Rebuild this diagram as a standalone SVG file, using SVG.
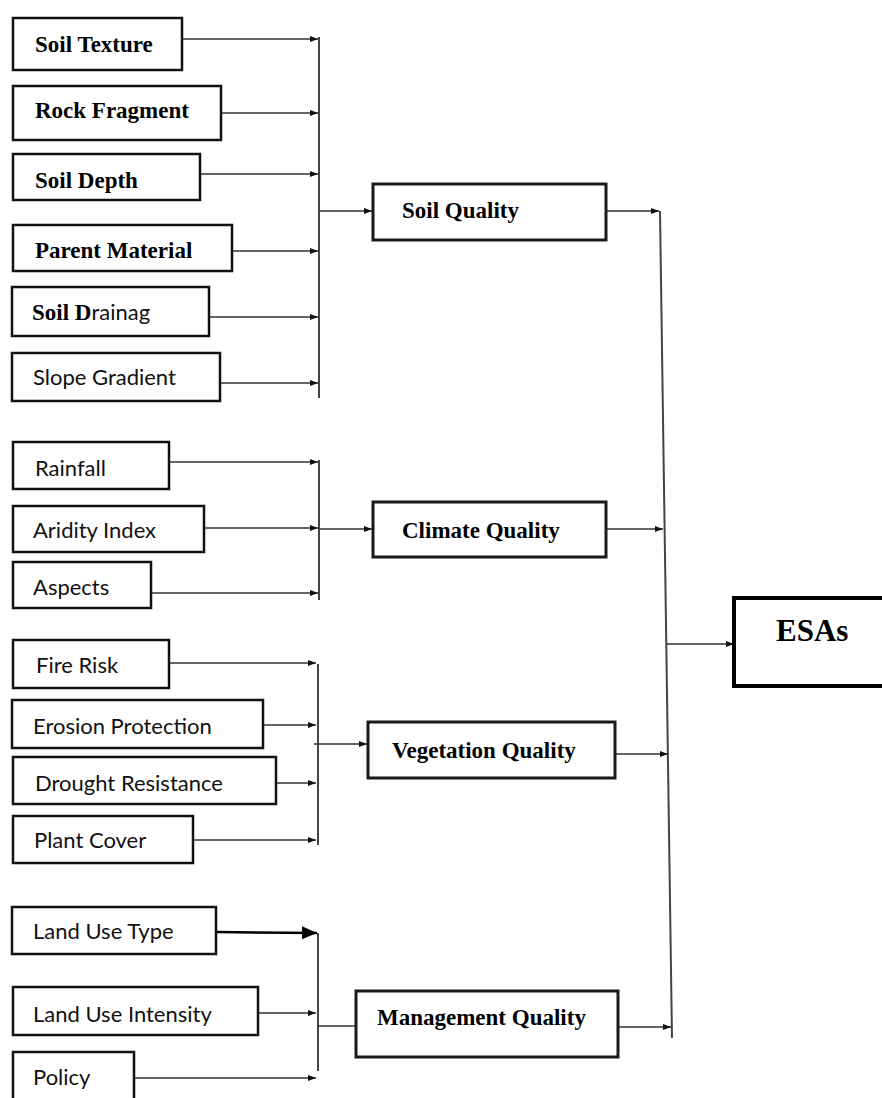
<svg xmlns="http://www.w3.org/2000/svg" width="882" height="1098" viewBox="0 0 882 1098">
<style>
.box{fill:#fff;stroke:#111;stroke-width:2.5}
.qbox{fill:#fff;stroke:#1a1a1a;stroke-width:3}
.bt{font-family:"Liberation Serif","Times New Roman",serif;font-weight:bold;font-size:23px;fill:#000}
.st{font-family:Lato,"Noto Sans",sans-serif;font-size:22px;fill:#111}
.ln{stroke:#333;stroke-width:1.6;fill:none}
.bus{stroke:#444;stroke-width:2;fill:none}
</style>
<defs>
<marker id="ah" markerUnits="userSpaceOnUse" markerWidth="9" markerHeight="7" refX="8" refY="3.5" orient="auto"><path d="M0,0.5 L8,3.5 L0,6.5 z" fill="#111"/></marker>
<marker id="ahb" markerUnits="userSpaceOnUse" markerWidth="16" markerHeight="14" refX="15" refY="7" orient="auto"><path d="M0,0.5 L15,7 L0,13.5 z" fill="#000"/></marker>
</defs>
<rect width="882" height="1098" fill="#fff"/>
<g id="connectors">
<line class="ln" x1="182" y1="39" x2="318" y2="39" marker-end="url(#ah)"/>
<line class="ln" x1="221" y1="113" x2="318" y2="113" marker-end="url(#ah)"/>
<line class="ln" x1="200" y1="174" x2="318" y2="174" marker-end="url(#ah)"/>
<line class="ln" x1="232" y1="251" x2="318" y2="251" marker-end="url(#ah)"/>
<line class="ln" x1="209" y1="317" x2="318" y2="317" marker-end="url(#ah)"/>
<line class="ln" x1="220" y1="383" x2="318" y2="383" marker-end="url(#ah)"/>
<line class="bus" x1="319" y1="37" x2="319" y2="398"/>
<line class="ln" x1="319" y1="211" x2="372" y2="211" marker-end="url(#ah)"/>
<line class="ln" x1="169" y1="462" x2="318" y2="462" marker-end="url(#ah)"/>
<line class="ln" x1="204" y1="528" x2="318" y2="528" marker-end="url(#ah)"/>
<line class="ln" x1="151" y1="593" x2="318" y2="593" marker-end="url(#ah)"/>
<line class="bus" x1="319" y1="460" x2="319" y2="600"/>
<line class="ln" x1="319" y1="529" x2="372" y2="529" marker-end="url(#ah)"/>
<line class="ln" x1="169" y1="663" x2="316" y2="663" marker-end="url(#ah)"/>
<line class="ln" x1="263" y1="725" x2="316" y2="725" marker-end="url(#ah)"/>
<line class="ln" x1="276" y1="783" x2="316" y2="783" marker-end="url(#ah)"/>
<line class="ln" x1="193" y1="840" x2="316" y2="840" marker-end="url(#ah)"/>
<line class="bus" x1="318" y1="664" x2="318" y2="845"/>
<line class="ln" x1="314" y1="744" x2="367" y2="744" marker-end="url(#ah)"/>
<line x1="216" y1="932" x2="317" y2="933" stroke="#000" stroke-width="2.5" marker-end="url(#ahb)"/>
<line class="ln" x1="258" y1="1013" x2="316" y2="1013" marker-end="url(#ah)"/>
<line class="ln" x1="134" y1="1078" x2="316" y2="1078" marker-end="url(#ah)"/>
<line class="bus" x1="318" y1="933" x2="318" y2="1071"/>
<line class="ln" x1="318" y1="1026" x2="356" y2="1026"/>
<line class="bus" x1="660" y1="211" x2="672" y2="1038"/>
<line class="ln" x1="606" y1="211" x2="659" y2="211" marker-end="url(#ah)"/>
<line class="ln" x1="606" y1="529" x2="663" y2="529" marker-end="url(#ah)"/>
<line class="ln" x1="615" y1="754" x2="668" y2="754" marker-end="url(#ah)"/>
<line class="ln" x1="618" y1="1027" x2="671" y2="1027" marker-end="url(#ah)"/>
<line class="ln" x1="667" y1="644" x2="734" y2="644" marker-end="url(#ah)"/>
</g>
<g id="soil-texture"><rect class="box" x="13" y="18" width="169" height="52"/><text class="bt" x="35" y="52">Soil Texture</text></g>
<g id="rock-fragment"><rect class="box" x="13" y="86" width="208" height="54"/><text class="bt" x="35" y="118">Rock Fragment</text></g>
<g id="soil-depth"><rect class="box" x="13" y="154" width="187" height="46"/><text class="bt" x="35" y="188">Soil Depth</text></g>
<g id="parent-material"><rect class="box" x="13" y="225" width="219" height="46"/><text class="bt" x="35" y="258">Parent Material</text></g>
<g id="soil-drainage"><rect class="box" x="12" y="287" width="197" height="49"/><text x="32" y="320"><tspan class="bt">Soil D</tspan><tspan class="st">rainag</tspan></text></g>
<g id="slope-gradient"><rect class="box" x="12" y="353" width="208" height="48"/><text class="st" x="33" y="385">Slope Gradient</text></g>
<g id="rainfall"><rect class="box" x="13" y="442" width="156" height="47"/><text class="st" x="35" y="476">Rainfall</text></g>
<g id="aridity-index"><rect class="box" x="13" y="506" width="191" height="46"/><text class="st" x="33" y="538">Aridity Index</text></g>
<g id="aspects"><rect class="box" x="13" y="562" width="138" height="46"/><text class="st" x="33" y="595">Aspects</text></g>
<g id="fire-risk"><rect class="box" x="13" y="640" width="156" height="48"/><text class="st" x="36" y="673">Fire Risk</text></g>
<g id="erosion-protection"><rect class="box" x="12" y="700" width="251" height="48"/><text class="st" x="33" y="734">Erosion Protection</text></g>
<g id="drought-resistance"><rect class="box" x="13" y="757" width="263" height="47"/><text class="st" x="35" y="791">Drought Resistance</text></g>
<g id="plant-cover"><rect class="box" x="13" y="816" width="180" height="47"/><text class="st" x="34" y="848">Plant Cover</text></g>
<g id="land-use-type"><rect class="box" x="12" y="907" width="204" height="47"/><text class="st" x="33" y="939">Land Use Type</text></g>
<g id="land-use-intensity"><rect class="box" x="13" y="987" width="245" height="48"/><text class="st" x="33" y="1022">Land Use Intensity</text></g>
<g id="policy"><rect class="box" x="13" y="1052" width="121" height="50"/><text class="st" x="33" y="1085">Policy</text></g>
<g id="soil-quality"><rect class="qbox" x="373" y="184" width="233" height="56"/><text class="bt" x="402" y="218">Soil Quality</text></g>
<g id="climate-quality"><rect class="qbox" x="373" y="502" width="233" height="55"/><text class="bt" x="402" y="538">Climate Quality</text></g>
<g id="vegetation-quality"><rect class="qbox" x="368" y="722" width="247" height="56"/><text class="bt" x="392" y="758">Vegetation Quality</text></g>
<g id="management-quality"><rect class="qbox" x="356" y="991" width="262" height="66"/><text class="bt" x="377" y="1025">Management Quality</text></g>
<g id="esas"><rect x="734" y="598" width="160" height="88" fill="#fff" stroke="#000" stroke-width="4"/><text x="776" y="641" font-family="Liberation Serif,'Times New Roman',serif" font-weight="bold" font-size="31" fill="#000">ESAs</text></g>
</svg>
